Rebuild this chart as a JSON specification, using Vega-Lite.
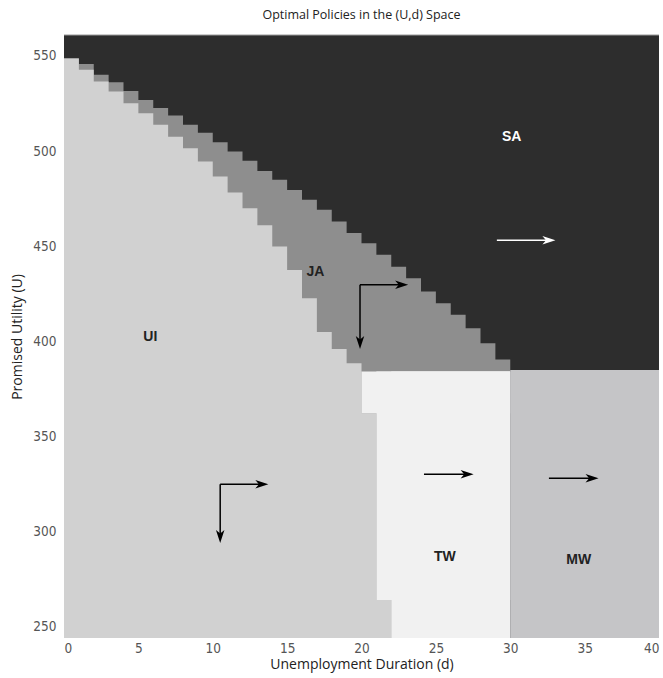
{
  "$schema": "https://vega.github.io/schema/vega-lite/v6.json",
  "autosize": "none",
  "width": 595,
  "height": 603,
  "padding": {"left": 64, "top": 35, "right": 4, "bottom": 40},
  "background": "white",
  "config": {
    "view": {"stroke": null},
    "axis": {
      "domain": false, "ticks": false, "grid": false,
      "labelFont": "Liberation Sans Narrow, DejaVu Sans Condensed, Arial",
      "labelFontSize": 13.5, "labelColor": "#555",
      "titleFont": "Open Sans", "titleFontSize": 14, "titleFontWeight": "normal", "titleColor": "#222"
    }
  },
  "title": {"text": "Optimal Policies in the (U,d) Space", "font": "Open Sans", "fontSize": 12.5, "fontWeight": "normal", "color": "#222", "offset": 13},
  "datasets": {
    "cells": [
      {"d0": 0, "d1": 40, "u0": 244.2, "u1": 561, "p": "SA"},
      {"d0": 0, "d1": 1, "u0": 244.2, "u1": 548.8, "p": "JA"},
      {"d0": 0, "d1": 2, "u0": 244.2, "u1": 545.8, "p": "JA"},
      {"d0": 0, "d1": 3, "u0": 244.2, "u1": 540.1, "p": "JA"},
      {"d0": 0, "d1": 4, "u0": 244.2, "u1": 536.2, "p": "JA"},
      {"d0": 0, "d1": 5, "u0": 244.2, "u1": 531.6, "p": "JA"},
      {"d0": 0, "d1": 6, "u0": 244.2, "u1": 526.9, "p": "JA"},
      {"d0": 0, "d1": 7, "u0": 244.2, "u1": 522.6, "p": "JA"},
      {"d0": 0, "d1": 8, "u0": 244.2, "u1": 518.7, "p": "JA"},
      {"d0": 0, "d1": 9, "u0": 244.2, "u1": 513.8, "p": "JA"},
      {"d0": 0, "d1": 10, "u0": 244.2, "u1": 509.7, "p": "JA"},
      {"d0": 0, "d1": 11, "u0": 244.2, "u1": 504.7, "p": "JA"},
      {"d0": 0, "d1": 12, "u0": 244.2, "u1": 499.8, "p": "JA"},
      {"d0": 0, "d1": 13, "u0": 244.2, "u1": 495.0, "p": "JA"},
      {"d0": 0, "d1": 14, "u0": 244.2, "u1": 489.6, "p": "JA"},
      {"d0": 0, "d1": 15, "u0": 244.2, "u1": 484.9, "p": "JA"},
      {"d0": 0, "d1": 16, "u0": 244.2, "u1": 479.6, "p": "JA"},
      {"d0": 0, "d1": 17, "u0": 244.2, "u1": 474.4, "p": "JA"},
      {"d0": 0, "d1": 18, "u0": 244.2, "u1": 469.2, "p": "JA"},
      {"d0": 0, "d1": 19, "u0": 244.2, "u1": 463.0, "p": "JA"},
      {"d0": 0, "d1": 20, "u0": 244.2, "u1": 457.0, "p": "JA"},
      {"d0": 0, "d1": 21, "u0": 244.2, "u1": 451.6, "p": "JA"},
      {"d0": 0, "d1": 22, "u0": 244.2, "u1": 445.5, "p": "JA"},
      {"d0": 0, "d1": 23, "u0": 244.2, "u1": 439.3, "p": "JA"},
      {"d0": 0, "d1": 24, "u0": 244.2, "u1": 433.2, "p": "JA"},
      {"d0": 0, "d1": 25, "u0": 244.2, "u1": 426.2, "p": "JA"},
      {"d0": 0, "d1": 26, "u0": 244.2, "u1": 420.1, "p": "JA"},
      {"d0": 0, "d1": 27, "u0": 244.2, "u1": 414.0, "p": "JA"},
      {"d0": 0, "d1": 28, "u0": 244.2, "u1": 407.0, "p": "JA"},
      {"d0": 0, "d1": 29, "u0": 244.2, "u1": 399.1, "p": "JA"},
      {"d0": 0, "d1": 30, "u0": 244.2, "u1": 390.5, "p": "JA"},
      {"d0": 0, "d1": 1, "u0": 244.2, "u1": 548.6, "p": "UI"},
      {"d0": 0, "d1": 2, "u0": 244.2, "u1": 542.7, "p": "UI"},
      {"d0": 0, "d1": 3, "u0": 244.2, "u1": 536.6, "p": "UI"},
      {"d0": 0, "d1": 4, "u0": 244.2, "u1": 531.3, "p": "UI"},
      {"d0": 0, "d1": 5, "u0": 244.2, "u1": 525.2, "p": "UI"},
      {"d0": 0, "d1": 6, "u0": 244.2, "u1": 519.9, "p": "UI"},
      {"d0": 0, "d1": 7, "u0": 244.2, "u1": 513.8, "p": "UI"},
      {"d0": 0, "d1": 8, "u0": 244.2, "u1": 507.6, "p": "UI"},
      {"d0": 0, "d1": 9, "u0": 244.2, "u1": 501.5, "p": "UI"},
      {"d0": 0, "d1": 10, "u0": 244.2, "u1": 494.5, "p": "UI"},
      {"d0": 0, "d1": 11, "u0": 244.2, "u1": 486.6, "p": "UI"},
      {"d0": 0, "d1": 12, "u0": 244.2, "u1": 478.3, "p": "UI"},
      {"d0": 0, "d1": 13, "u0": 244.2, "u1": 470.0, "p": "UI"},
      {"d0": 0, "d1": 14, "u0": 244.2, "u1": 461.0, "p": "UI"},
      {"d0": 0, "d1": 15, "u0": 244.2, "u1": 449.9, "p": "UI"},
      {"d0": 0, "d1": 16, "u0": 244.2, "u1": 437.6, "p": "UI"},
      {"d0": 0, "d1": 17, "u0": 244.2, "u1": 422.7, "p": "UI"},
      {"d0": 0, "d1": 18, "u0": 244.2, "u1": 405.0, "p": "UI"},
      {"d0": 0, "d1": 19, "u0": 244.2, "u1": 396.0, "p": "UI"},
      {"d0": 0, "d1": 20, "u0": 244.2, "u1": 388.6, "p": "UI"},
      {"d0": 0, "d1": 21, "u0": 244.2, "u1": 362.3, "p": "UI"},
      {"d0": 0, "d1": 22, "u0": 244.2, "u1": 264.2, "p": "UI"},
      {"d0": 20, "d1": 30, "u0": 362.3, "u1": 384.2, "p": "TW"},
      {"d0": 21, "d1": 30, "u0": 264.2, "u1": 384.2, "p": "TW"},
      {"d0": 22, "d1": 30, "u0": 244.2, "u1": 384.2, "p": "TW"},
      {"d0": 30, "d1": 40, "u0": 244.2, "u1": 385.0, "p": "MW"}
    ],
    "arrows": [
      {"x0": 29.1, "y0": 453.2, "x1": 32.6, "y1": 453.2, "c": "white", "a": 0},
      {"x0": 19.9, "y0": 429.8, "x1": 22.7, "y1": 429.8, "c": "black", "a": 0},
      {"x0": 19.9, "y0": 429.8, "x1": 19.9, "y1": 399.5, "c": "black", "a": 90},
      {"x0": 10.5, "y0": 325.0, "x1": 13.3, "y1": 325.0, "c": "black", "a": 0},
      {"x0": 10.5, "y0": 325.0, "x1": 10.5, "y1": 297.5, "c": "black", "a": 90},
      {"x0": 24.2, "y0": 330.2, "x1": 27.1, "y1": 330.2, "c": "black", "a": 0},
      {"x0": 32.6, "y0": 328.1, "x1": 35.5, "y1": 328.1, "c": "black", "a": 0}
    ],
    "labels": [
      {"x": 30.1, "y": 507.5, "t": "SA", "c": "white"},
      {"x": 16.9, "y": 436.5, "t": "JA", "c": "#222"},
      {"x": 5.8, "y": 402.4, "t": "UI", "c": "#222"},
      {"x": 25.6, "y": 286.8, "t": "TW", "c": "#222"},
      {"x": 34.6, "y": 285.2, "t": "MW", "c": "#222"}
    ]
  },
  "layer": [
    {
      "data": {"name": "cells"},
      "mark": {"type": "rect", "strokeWidth": 0},
      "encoding": {
        "x": {"field": "d0", "type": "quantitative", "scale": {"domain": [0, 40], "nice": false, "zero": false},
              "axis": {"values": [0, 5, 10, 15, 20, 25, 30, 35, 40], "title": "Unemployment Duration (d)", "labelPadding": 3, "titlePadding": 3}},
        "x2": {"field": "d1"},
        "y": {"field": "u0", "type": "quantitative", "scale": {"domain": [244.2, 561], "nice": false, "zero": false},
              "axis": {"values": [250, 300, 350, 400, 450, 500, 550], "title": "Promised Utility (U)", "labelPadding": 8, "titlePadding": 8}},
        "y2": {"field": "u1"},
        "color": {"field": "p", "type": "nominal", "legend": null,
                  "scale": {"domain": ["SA", "JA", "UI", "TW", "MW"], "range": ["#2d2d2d", "#8e8e8e", "#d1d1d1", "#f1f1f1", "#c5c5c7"]}}
      }
    },
    {
      "data": {"values": [{"a": 0, "b": 40, "u": 561}]},
      "mark": {"type": "rule", "color": "#999", "strokeWidth": 1},
      "encoding": {
        "x": {"field": "a", "type": "quantitative"},
        "x2": {"field": "b"},
        "y": {"field": "u", "type": "quantitative"}
      }
    },
    {
      "data": {"name": "arrows"},
      "mark": {"type": "rule", "strokeWidth": 1.5},
      "encoding": {
        "x": {"field": "x0", "type": "quantitative"},
        "x2": {"field": "x1"},
        "y": {"field": "y0", "type": "quantitative"},
        "y2": {"field": "y1"},
        "color": {"field": "c", "type": "nominal", "scale": null}
      }
    },
    {
      "data": {"name": "arrows"},
      "mark": {"type": "point", "filled": true, "size": 170, "shape": "M1,0 L-1,-0.65 L-0.45,0 L-1,0.65 Z", "strokeWidth": 0, "opacity": 1},
      "encoding": {
        "x": {"field": "x1", "type": "quantitative"},
        "y": {"field": "y1", "type": "quantitative"},
        "angle": {"field": "a", "type": "quantitative", "scale": null},
        "color": {"field": "c", "type": "nominal", "scale": null}
      }
    },
    {
      "data": {"name": "labels"},
      "mark": {"type": "text", "font": "Liberation Sans", "fontWeight": "bold", "fontSize": 14, "align": "center", "baseline": "middle"},
      "encoding": {
        "x": {"field": "x", "type": "quantitative"},
        "y": {"field": "y", "type": "quantitative"},
        "text": {"field": "t"},
        "color": {"field": "c", "type": "nominal", "scale": null}
      }
    }
  ]
}
